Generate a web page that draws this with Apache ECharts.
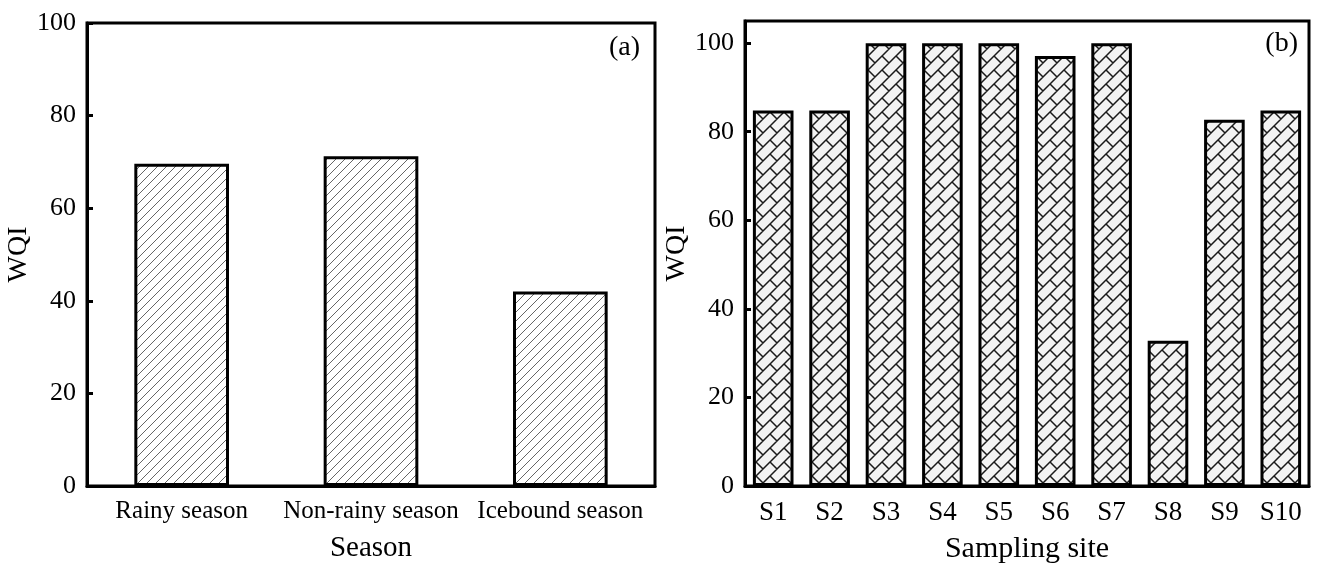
<!DOCTYPE html>
<html>
<head>
<meta charset="utf-8">
<script src="https://cdn.jsdelivr.net/npm/echarts@6/dist/echarts.min.js"></script>
<style>
html,body{margin:0;padding:0;background:#fff;}
#chart{width:1317px;height:563px;}
</style>
</head>
<body>
<div id="chart"></div>
<script>
// ---- data ----
const seasons = ['Rainy season', 'Non-rainy season', 'Icebound season'];
const seasonWQI = [69.6, 71.2, 42.0];
const sites = ['S1', 'S2', 'S3', 'S4', 'S5', 'S6', 'S7', 'S8', 'S9', 'S10'];
const siteWQI = [84.8, 84.8, 100, 100, 100, 97.1, 100, 32.8, 82.7, 84.8];
const leftYTicks = { min: 0, max: 100, interval: 20 };
const rightYTicks = { min: 0, max: 105, interval: 20 };
const panelLabels = ['(a)', '(b)'];
const axisNames = { leftX: 'Season', rightX: 'Sampling site', y: 'WQI' };

// ---- patterns ----
function hatchPattern() {
  const s = 9;
  const c = document.createElement('canvas');
  c.width = s; c.height = s;
  const g = c.getContext('2d');
  g.fillStyle = '#ffffff';
  g.fillRect(0, 0, s, s);
  g.strokeStyle = '#555';
  g.lineWidth = 0.9;
  g.beginPath();
  g.moveTo(0, s); g.lineTo(s, 0);
  g.moveTo(-1, 1); g.lineTo(1, -1);
  g.moveTo(s - 1, s + 1); g.lineTo(s + 1, s - 1);
  g.stroke();
  return c;
}
function latticePattern() {
  const s = 14;
  const c = document.createElement('canvas');
  c.width = s; c.height = s;
  const g = c.getContext('2d');
  g.fillStyle = '#f3f3f3';
  g.fillRect(0, 0, s, s);
  g.strokeStyle = '#1a1a1a';
  g.lineWidth = 1.5;
  g.beginPath();
  g.moveTo(-1, s + 1); g.lineTo(s + 1, -1);
  g.moveTo(-2, 2); g.lineTo(2, -2);
  g.moveTo(s - 2, s + 2); g.lineTo(s + 2, s - 2);
  g.moveTo(0, 0); g.lineTo(s / 2, s / 2);
  g.moveTo(s, 0); g.lineTo(s + s / 2, s / 2);
  g.moveTo(0, s); g.lineTo(s / 2, s + s / 2);
  g.stroke();
  return c;
}

const FONT = 'Liberation Serif';
const chart = echarts.init(document.getElementById('chart'), null, { renderer: 'canvas' });

function yAxis(gridIndex, ticks, gap) {
  return {
    type: 'value', gridIndex: gridIndex,
    min: ticks.min, max: ticks.max, interval: ticks.interval,
    name: axisNames.y, nameLocation: 'middle', nameGap: gap,
    nameTextStyle: { fontFamily: FONT, fontSize: 28, color: '#000' },
    axisLine: { show: true, lineStyle: { color: '#000', width: 3 } },
    axisTick: { show: true, inside: true, length: 6, lineStyle: { color: '#000', width: 3 } },
    axisLabel: { fontFamily: FONT, fontSize: 26, color: '#000', margin: 11, showMaxLabel: ticks.max % ticks.interval === 0 },
    splitLine: { show: false }
  };
}
function xAxis(gridIndex, cats, name, fontSize, nameSize) {
  return {
    type: 'category', gridIndex: gridIndex, data: cats,
    name: name, nameLocation: 'middle', nameGap: 48,
    nameTextStyle: { fontFamily: FONT, fontSize: nameSize, color: '#000' },
    axisLine: { show: true, lineStyle: { color: '#000', width: 3 } },
    axisTick: { show: true, inside: true, alignWithLabel: true, length: 6, lineStyle: { color: '#000', width: 3 } },
    axisLabel: { fontFamily: FONT, fontSize: fontSize, color: '#000', interval: 0, margin: 13 },
    splitLine: { show: false }
  };
}

chart.setOption({
  animation: false,
  backgroundColor: '#fff',
  grid: [
    { left: 87, right: 662, top: 23, bottom: 77, show: true, borderColor: '#000', borderWidth: 3, containLabel: false, outerBoundsMode: 'none' },
    { left: 745, right: 8, top: 21, bottom: 77, show: true, borderColor: '#000', borderWidth: 3, containLabel: false, outerBoundsMode: 'none' }
  ],
  xAxis: [
    xAxis(0, seasons, axisNames.leftX, 25, 29),
    xAxis(1, sites, axisNames.rightX, 27, 30)
  ],
  yAxis: [
    yAxis(0, leftYTicks, 50),
    yAxis(1, rightYTicks, 47)
  ],
  graphic: [
    { type: 'text', right: 1317 - 640, top: 34, style: { text: panelLabels[0], font: '28px "' + FONT + '"', fill: '#000' } },
    { type: 'text', right: 19, top: 30, style: { text: panelLabels[1], font: '28px "' + FONT + '"', fill: '#000' } }
  ],
  series: [
    {
      type: 'bar', xAxisIndex: 0, yAxisIndex: 0, data: seasonWQI, barWidth: '50%',
      itemStyle: { color: { image: hatchPattern(), repeat: 'repeat' }, borderColor: '#000', borderWidth: 3 }
    },
    {
      type: 'bar', xAxisIndex: 1, yAxisIndex: 1, data: siteWQI, barWidth: '72%',
      itemStyle: { color: { image: latticePattern(), repeat: 'repeat' }, borderColor: '#000', borderWidth: 3 }
    }
  ]
});
</script>
</body>
</html>
